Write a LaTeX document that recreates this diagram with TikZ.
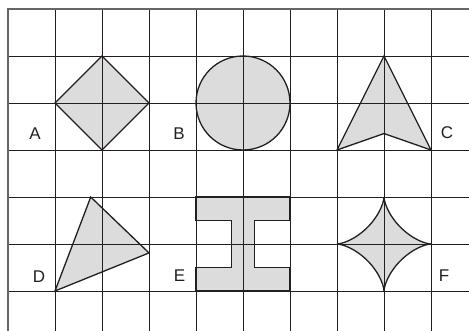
\documentclass[tikz,border=0pt]{standalone}
\usepackage{fontspec}
\setmainfont{Liberation Sans}
\begin{document}
\begin{tikzpicture}[x=1pt,y=-1pt,
  shapeline/.style={draw=inkblack,line width=1.3pt,line join=miter},
  gridline/.style={draw=inkblack,line width=0.95pt},
  borderline/.style={draw=black!60,line width=2pt},
  letter/.style={font=\fontsize{17pt}{18pt}\selectfont,inner sep=0pt,text=inkblack}]
\definecolor{shadegray}{HTML}{DCDCDC}
\definecolor{inkblack}{HTML}{231F20}
\useasboundingbox (0,0) rectangle (469,331);
\begin{scope}[shift={(8,9)},x=47pt,y=-47pt]
  % fills
  \fill[shadegray] (1,2) -- (2,1) -- (3,2) -- (2,3) -- cycle;
  \fill[shadegray] (5,2) circle[radius=1];
  \fill[shadegray] (8,1) -- (9,3) -- (8,2.65) -- (7,3) -- cycle;
  \fill[shadegray] (1,6) -- (1.76,4) -- (3,5.19) -- cycle;
  \fill[shadegray] (4,4) -- (6,4) -- (6,4.5) -- (5.25,4.5) -- (5.25,5.5) -- (6,5.5) -- (6,6) -- (4,6) -- (4,5.5) -- (4.75,5.5) -- (4.75,4.5) -- (4,4.5) -- cycle;
  \fill[shadegray] plot[domain=0:360,samples=241] ({8+pow(cos(\x),3)},{5+pow(sin(\x),3)}) -- cycle;
  % grid
  \foreach \i in {1,...,9} \draw[gridline] (\i,0) -- (\i,6.851);
  \foreach \j in {1,...,6} \draw[gridline] (0,\j) -- (9.809,\j);
  \draw[borderline] (0,6.851) -- (0,0) -- (9.809,0);
  % outlines
  \draw[shapeline] (1,2) -- (2,1) -- (3,2) -- (2,3) -- cycle;
  \draw[shapeline] (5,2) circle[radius=1];
  \draw[shapeline] (8,1) -- (9,3) -- (8,2.65) -- (7,3) -- cycle;
  \draw[shapeline] (1,6) -- (1.76,4) -- (3,5.19) -- cycle;
  \draw[shapeline] (4,4) -- (6,4) -- (6,4.5) -- (5.25,4.5) -- (5.25,5.5) -- (6,5.5) -- (6,6) -- (4,6) -- (4,5.5) -- (4.75,5.5) -- (4.75,4.5) -- (4,4.5) -- cycle;
  \draw[shapeline] plot[domain=0:90,samples=60] ({8+pow(cos(\x),3)},{5+pow(sin(\x),3)});
  \draw[shapeline] plot[domain=90:180,samples=60] ({8+pow(cos(\x),3)},{5+pow(sin(\x),3)});
  \draw[shapeline] plot[domain=180:270,samples=60] ({8+pow(cos(\x),3)},{5+pow(sin(\x),3)});
  \draw[shapeline] plot[domain=270:360,samples=60] ({8+pow(cos(\x),3)},{5+pow(sin(\x),3)});
\end{scope}
\node[letter] (la) at (35,133.5) {A};
\node[letter] (lb) at (179,134) {B};
\node[letter] (lc) at (447,133) {C};
\node[letter] (ld) at (39,276.5) {D};
\node[letter] (le) at (179.5,275.5) {E};
\node[letter] (lf) at (444,276) {F};
\end{tikzpicture}
\end{document}
